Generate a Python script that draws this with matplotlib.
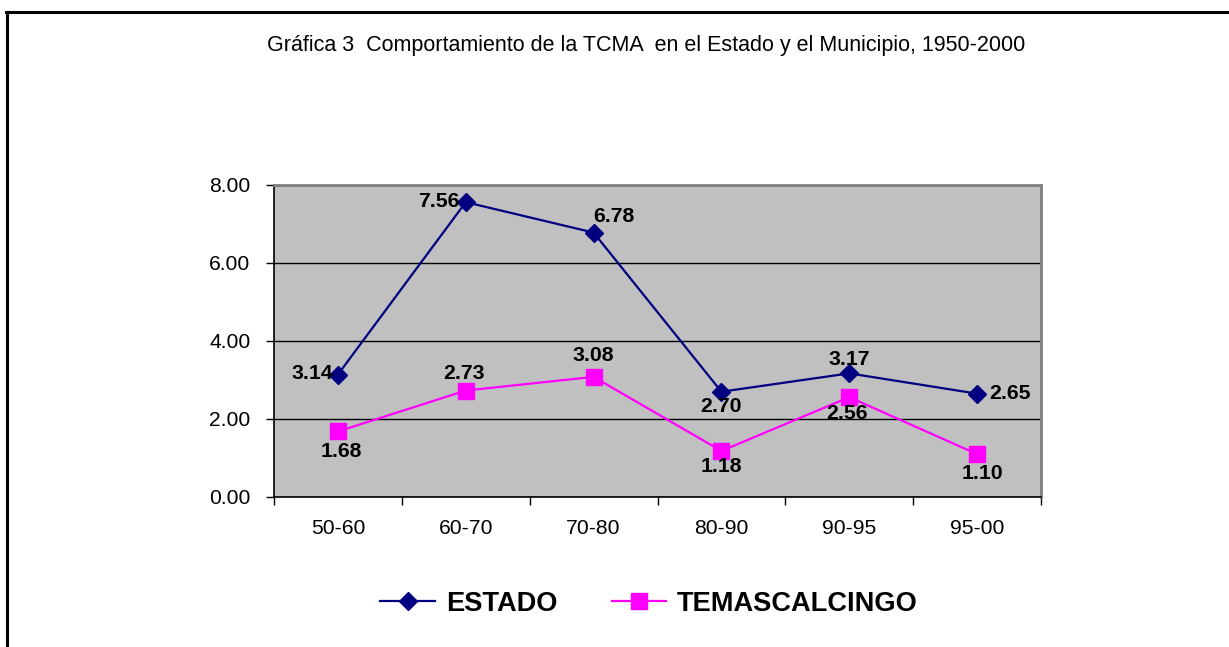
import matplotlib
matplotlib.use("Agg")
import matplotlib.pyplot as plt
from matplotlib.lines import Line2D

plt.rcParams['font.family'] = ['Liberation Sans', 'DejaVu Sans']

categories = ["50-60", "60-70", "70-80", "80-90", "90-95", "95-00"]
estado = [3.14, 7.56, 6.78, 2.70, 3.17, 2.65]
temascalcingo = [1.68, 2.73, 3.08, 1.18, 2.56, 1.10]
yticks = [0, 2, 4, 6, 8]
title = "Gráfica 3  Comportamiento de la TCMA  en el Estado y el Municipio, 1950-2000"

# label offsets in pixels (dx, dy, ha)
estado_off = [(-5, 1, 'right'), (-6, 1, 'right'), (0, 16, 'left'), (0, -15, 'center'),
              (0, 14, 'center'), (12, 0, 'left')]
tem_off = [(3, -20, 'center'), (-2, 17, 'center'), (0, 21, 'center'), (0, -16, 'center'),
           (-2, -16, 'center'), (5, -19, 'center')]

fig = plt.figure(figsize=(12.29, 6.47), dpi=100)
ax = fig.add_axes([274/1229, 1-497/647, (1041-274)/1229, (497-185)/647])
ax.set_facecolor('#C0C0C0')

x = list(range(len(categories)))
ax.plot(x, estado, color='#000080', lw=1.6, marker='D', ms=9.5, zorder=3, label='ESTADO')
ax.plot(x, temascalcingo, color='#FF00FF', lw=1.6, marker='s', ms=11, zorder=3, label='TEMASCALCINGO')

px = 0.72
for xi, v, (dx, dy, ha) in zip(x, estado, estado_off):
    ax.annotate(f"{v:.2f}", (xi, v), xytext=(dx*px, dy*px), textcoords='offset points',
                ha=ha, va='center', fontsize=15.3, fontweight='bold', zorder=4)
for xi, v, (dx, dy, ha) in zip(x, temascalcingo, tem_off):
    ax.annotate(f"{v:.2f}", (xi, v), xytext=(dx*px, dy*px), textcoords='offset points',
                ha=ha, va='center', fontsize=15.3, fontweight='bold', zorder=4)

ax.set_xlim(-0.5, len(categories)-0.5)
ax.set_ylim(0, 8)
ax.set_yticks(yticks)
ax.set_yticklabels([f"{t:.2f}" for t in yticks])
ax.set_xticks(x)
ax.set_xticklabels(categories)
ax.set_xticks([i-0.5 for i in range(len(categories)+1)], minor=True)
ax.tick_params(axis='x', which='major', length=0, pad=15.5, labelsize=15.2)
ax.tick_params(axis='x', which='minor', length=6, width=1, direction='out')
ax.tick_params(axis='y', length=6, width=1, direction='out', pad=11, labelsize=15.2)
ax.grid(axis='y', color='black', lw=1)
ax.set_axisbelow(True)
for s in ['left', 'bottom']:
    ax.spines[s].set_color('black')
    ax.spines[s].set_linewidth(1.2)
for s in ['top', 'right']:
    ax.spines[s].set_color('#808080')
    ax.spines[s].set_linewidth(2)

fig.text(646/1229, 1-45/647, title, ha='center', va='center', fontsize=15.5)

fig.legend(loc='center', bbox_to_anchor=(649/1229, 1-604/647), ncol=2, frameon=False,
           prop={'size': 19.6, 'weight': 'bold'}, handlelength=2.0, handletextpad=0.4,
           columnspacing=2.0)

# partial frame (top and left)
fig.add_artist(Line2D([7/1229, 7/1229], [0, 1-12/647], color='black', lw=2.2, transform=fig.transFigure))
fig.add_artist(Line2D([6/1229, 1], [1-12/647, 1-12/647], color='black', lw=2.2, transform=fig.transFigure))

fig.savefig("out.png", dpi=100)
